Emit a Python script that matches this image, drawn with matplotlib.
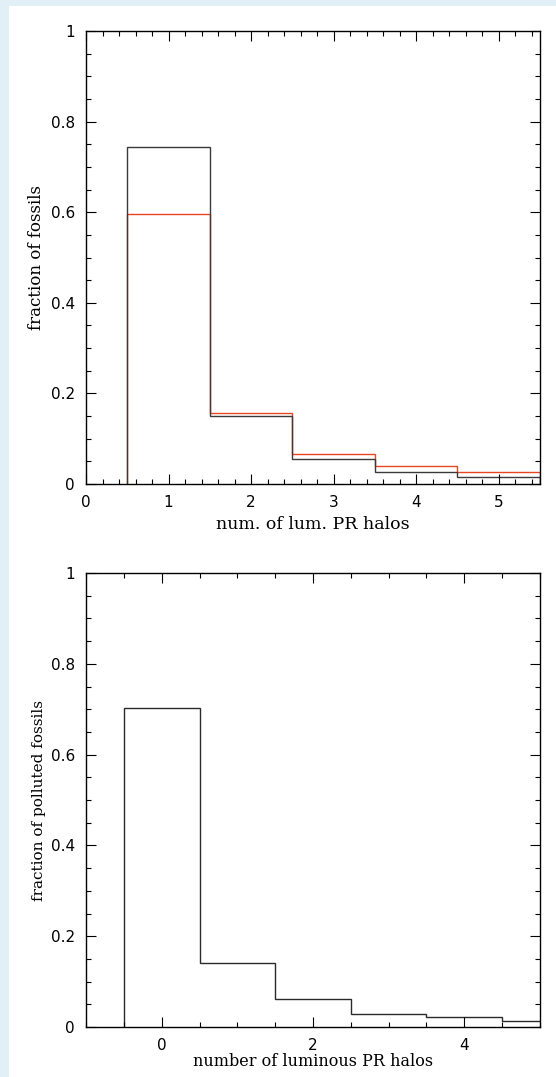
import matplotlib
matplotlib.use('Agg')
from matplotlib import pyplot as plt
from matplotlib.patches import Rectangle
from matplotlib.ticker import MultipleLocator, FuncFormatter

## Data
# top panel: bins centred on 1..5 luminous PR halos
top_edges = [0.5, 1.5, 2.5, 3.5, 4.5, 5.5]
top_black = [0.743, 0.151, 0.056, 0.026, 0.0155]
top_red = [0.596, 0.156, 0.066, 0.0405, 0.027]
# bottom panel: bins centred on 0..5
bot_edges = [-0.5, 0.5, 1.5, 2.5, 3.5, 4.5, 5.5]
bot_vals = [0.702, 0.142, 0.0625, 0.0287, 0.021, 0.014]

RED = '#e8461f'
LBL = 'DejaVu Serif'
plt.rcParams['font.family'] = 'DejaVu Sans'

def fmt(v, pos):
    return '%g' % v

def style_axes(ax, xmaj, xmin):
    ax.set_ylim(0, 1)
    ax.xaxis.set_major_locator(MultipleLocator(xmaj))
    ax.xaxis.set_minor_locator(MultipleLocator(xmin))
    ax.yaxis.set_major_locator(MultipleLocator(0.2))
    ax.yaxis.set_minor_locator(MultipleLocator(0.05))
    ax.yaxis.set_major_formatter(FuncFormatter(fmt))
    ax.xaxis.set_major_formatter(FuncFormatter(fmt))
    ax.tick_params(which='both', direction='in', top=True, right=True,
                   width=0.8, colors='black', labelsize=11)
    ax.tick_params(which='major', length=7, pad=8)
    ax.tick_params(which='minor', length=3.5)
    for s in ax.spines.values():
        s.set_linewidth(1.0)

fig = plt.figure(figsize=(5.56, 10.77), dpi=100)
fig.patch.set_facecolor('#e1eff6')
fig.add_artist(Rectangle((9/556, 0), 1, 1 - 6/1077, transform=fig.transFigure,
                         facecolor='white', edgecolor='none', zorder=-10))

# top panel
ax1 = fig.add_axes([0.1547, 0.5506, 0.8165, 0.4206])
ax1.stairs(top_red, top_edges, baseline=0, color=RED, linewidth=1.0)
ax1.stairs(top_black, top_edges, baseline=0, color='#3a3a3a', linewidth=1.0)
ax1.set_xlim(0, 5.5)
style_axes(ax1, 1, 0.2)
ax1.set_xlabel('num. of lum. PR halos', family=LBL, fontsize=12.5, labelpad=4)
ax1.set_ylabel('fraction of fossils', family=LBL, fontsize=12, labelpad=4)

# bottom panel
ax2 = fig.add_axes([0.1547, 0.0464, 0.8165, 0.4215])
ax2.stairs(bot_vals, bot_edges, baseline=0, color='#2a2a2a', linewidth=1.0)
ax2.set_xlim(-1, 5)
style_axes(ax2, 2, 0.5)
ax2.set_xlabel('number of luminous PR halos', family=LBL, fontsize=11.5, labelpad=0)
ax2.set_ylabel('fraction of polluted fossils', family=LBL, fontsize=11, labelpad=3)

fig.savefig('out.png', dpi=100)
